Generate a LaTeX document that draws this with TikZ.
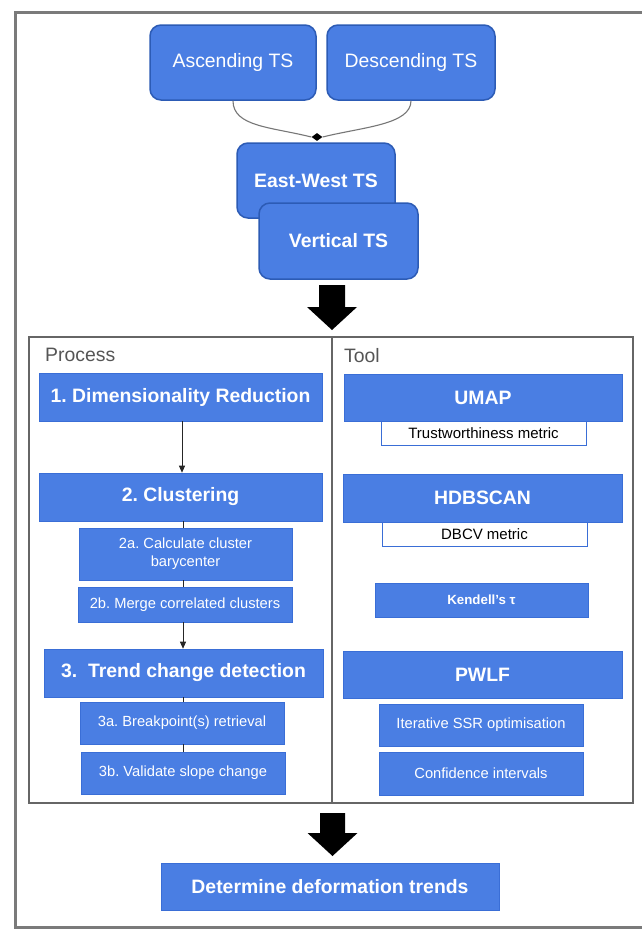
\documentclass[tikz,border=0pt]{standalone}
\usepackage{fontspec}
\setmainfont{Liberation Sans}
\frenchspacing
\usetikzlibrary{arrows.meta,calc,shapes.geometric}
\definecolor{gblue}{HTML}{4A7EE3}
\definecolor{gbord}{HTML}{2C5BB5}
\definecolor{tbord}{HTML}{3A6ED6}
\definecolor{framegray}{HTML}{7A7A7A}
\definecolor{tablegray}{HTML}{666666}
\definecolor{labelgray}{HTML}{555555}
\definecolor{curvegray}{HTML}{777777}
\tikzset{
  tsbox/.style={draw=gbord, line width=1.5pt, fill=gblue, rounded corners=11pt,
    text=white, inner sep=0pt, font=\fontsize{19.4}{23}\selectfont},
  tsbold/.style={tsbox, font=\bfseries\fontsize{19.4}{23}\selectfont},
  pbox/.style={draw=tbord, line width=0.6pt, fill=gblue, text=white, inner sep=0pt, align=center},
  bigtxt/.style={font=\bfseries\fontsize{19.4}{23}\selectfont},
  smalltxt/.style={font=\fontsize{14.7}{18}\selectfont},
  metric/.style={draw=tbord, line width=0.8pt, fill=white, text=black, inner sep=0pt,
    font=\fontsize{15}{18}\selectfont},
  collabel/.style={text=labelgray, inner sep=0pt, font=\fontsize{19.4}{23}\selectfont},
  conn/.style={draw=black!85, line width=0.9pt},
  arr/.style={conn, -{Triangle[width=6pt,length=7pt]}},
  bigarrow/.style={fill=black},
}
\begin{document}
\begin{tikzpicture}[x=1pt,y=-1pt]
\useasboundingbox (0,0) rectangle (641,929);
\fill[white] (0,0) rectangle (641,929);
% outer frame
\draw[framegray, line width=3pt] (15,12) rectangle (660,927);

% top boxes
\node[tsbox, minimum width=166pt, minimum height=75pt] (asc) at (233,62.5) {\raisebox{-2pt}{Ascending TS}};
\node[tsbox, minimum width=168pt, minimum height=75pt] (desc) at (411,62.5) {\raisebox{-2pt}{Descending TS}};
\node[tsbold, minimum width=158pt, minimum height=75pt] (ew) at (316,180.5) {East-West TS};
\node[tsbold, minimum width=159pt, minimum height=76pt] (vert) at (338.5,241) {Vertical TS};

% junction
\node[diamond, fill=black, minimum width=11pt, minimum height=8pt, inner sep=0pt] (j) at (317,137) {};
\draw[curvegray, line width=1.1pt] (asc.south) .. controls +(0,26) and +(-40,-10) .. (j.west);
\draw[curvegray, line width=1.1pt] (desc.south) .. controls +(0,24) and +(40,-10) .. (j.east);

% big arrow 1
\coordinate (a1) at (332,285);
\fill[bigarrow] ($(a1)+(-13,0)$) -- ($(a1)+(13,0)$) -- ($(a1)+(13,22)$) -- ($(a1)+(25,22)$)
  -- ($(a1)+(0,45)$) -- ($(a1)+(-25,22)$) -- ($(a1)+(-13,22)$) -- cycle;

% table
\draw[tablegray, line width=1.3pt] (29,337) rectangle (633,803);
\draw[tablegray, line width=1.3pt] (332,337) -- (332,803);
\node[collabel, anchor=base west] (proc) at (45,361) {Process};
\node[collabel, anchor=base west] (tool) at (344,362) {Tool};

% process column
\node[pbox, bigtxt, minimum width=283pt, minimum height=48pt] (p1) at (180.5,397) {\raisebox{-2pt}{1. Dimensionality Reduction}};
\node[pbox, bigtxt, minimum width=283pt, minimum height=48pt] (p2) at (180.5,497) {\raisebox{-2pt}{2. Clustering}};
\node[pbox, smalltxt, minimum width=213pt, minimum height=52pt] (p2a) at (185.5,554) {2a. Calculate cluster\\barycenter};
\node[pbox, smalltxt, minimum width=214pt, minimum height=35pt] (p2b) at (185,604.5) {2b. Merge correlated clusters};
\node[pbox, bigtxt, minimum width=279pt, minimum height=48pt] (p3) at (183.5,673) {\raisebox{-1pt}{3.\ \ Trend change detection}};
\node[pbox, smalltxt, minimum width=204pt, minimum height=42pt] (p3a) at (182,723) {3a. Breakpoint(s) retrieval};
\node[pbox, smalltxt, minimum width=204pt, minimum height=42pt] (p3b) at (183,773) {3b. Validate slope change};

\coordinate (ax) at (182,0);
\coordinate (bx) at (183,0);
\draw[arr] (p1.south -| ax) -- (p2.north -| ax);
\draw[conn] (p2.south -| bx) -- (p2a.north -| bx);
\draw[conn] (p2a.south -| bx) -- (p2b.north -| bx);
\draw[arr] (p2b.south -| bx) -- (p3.north -| bx);
\draw[conn] (p3.south -| bx) -- (p3a.north -| bx);
\draw[conn] (p3a.south -| bx) -- (p3b.north -| bx);

% tool column
\node[pbox, bigtxt, minimum width=278pt, minimum height=47pt] (umap) at (483,397.5) {UMAP};
\node[metric, minimum width=205pt, minimum height=24pt] (trust) at (483.5,433) {Trustworthiness metric};
\node[pbox, bigtxt, minimum width=279pt, minimum height=48pt] (hdb) at (482.5,498) {HDBSCAN};
\node[metric, minimum width=205pt, minimum height=24pt] (dbcv) at (484.5,534) {DBCV metric};
\node[pbox, font=\bfseries\fontsize{13.3}{16}\selectfont, minimum width=213pt, minimum height=34pt] (kend) at (481.5,600) {Kendell's τ};
\node[pbox, bigtxt, minimum width=279pt, minimum height=47pt] (pwlf) at (482.5,674.5) {PWLF};
\node[pbox, smalltxt, minimum width=204pt, minimum height=42pt] (ssr) at (481,725) {Iterative SSR optimisation};
\node[pbox, smalltxt, minimum width=204pt, minimum height=43pt] (conf) at (481,773.5) {Confidence intervals};

% big arrow 2
\coordinate (a2) at (332.5,813);
\fill[bigarrow] ($(a2)+(-12.5,0)$) -- ($(a2)+(12.5,0)$) -- ($(a2)+(12.5,20)$) -- ($(a2)+(25,20)$)
  -- ($(a2)+(0,43)$) -- ($(a2)+(-25,20)$) -- ($(a2)+(-12.5,20)$) -- cycle;

% final box
\node[pbox, bigtxt, minimum width=338pt, minimum height=47pt] (final) at (330,886.5) {Determine deformation trends};
\end{tikzpicture}
\end{document}
